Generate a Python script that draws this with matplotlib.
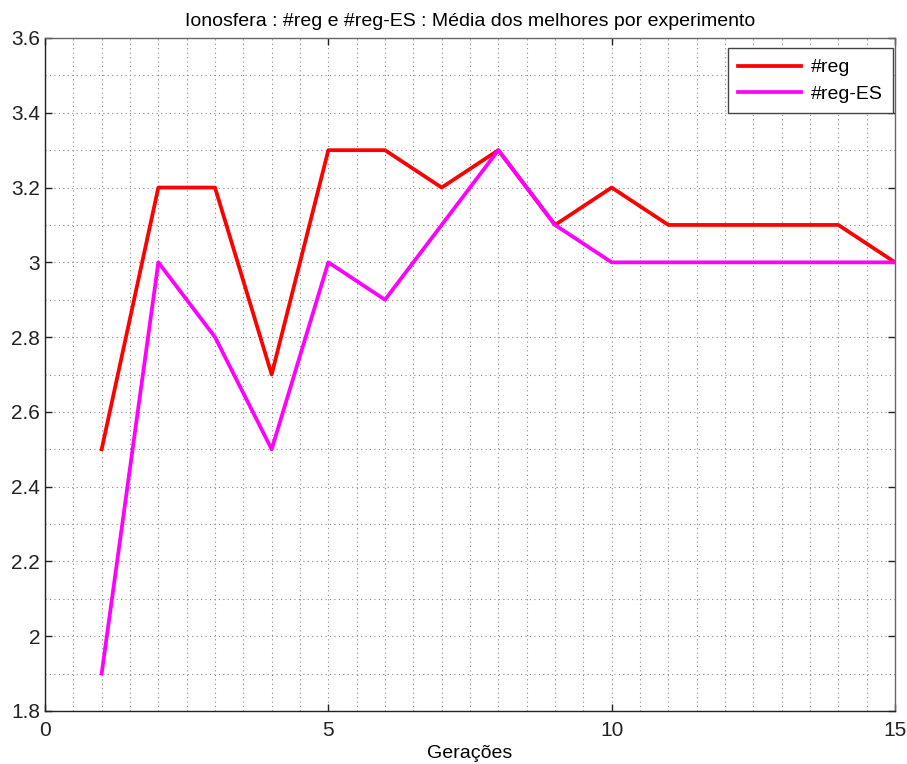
import matplotlib
matplotlib.use("Agg")
import matplotlib.pyplot as plt
from matplotlib.ticker import MultipleLocator, FixedLocator

plt.rcParams['font.family'] = ['Liberation Sans', 'DejaVu Sans']

geracoes = list(range(1, 16))
reg = [2.5, 3.2, 3.2, 2.7, 3.3, 3.3, 3.2, 3.3, 3.1, 3.2, 3.1, 3.1, 3.1, 3.1, 3.0]
reg_es = [1.9, 3.0, 2.8, 2.5, 3.0, 2.9, 3.1, 3.3, 3.1, 3.0, 3.0, 3.0, 3.0, 3.0, 3.0]
title = "Ionosfera : #reg e #reg-ES : Média dos melhores por experimento"
xlabel = "Gerações"
labels = ["#reg", "#reg-ES"]

fig = plt.figure(figsize=(9.07, 7.64), dpi=100)
ax = fig.add_axes([45/907, 1 - 711/764, (895-45)/907, (711-38)/764])

ax.plot(geracoes, reg, color='#ff0000', lw=2.7, label=labels[0], zorder=3)
ax.plot(geracoes, reg_es, color='#ff00ff', lw=2.7, label=labels[1], zorder=3)

ax.set_xlim(0, 15)
ax.set_ylim(1.8, 3.6)
ax.xaxis.set_major_locator(FixedLocator([0, 5, 10, 15]))
ax.xaxis.set_minor_locator(MultipleLocator(0.5))
ax.yaxis.set_major_locator(MultipleLocator(0.2))
ax.yaxis.set_minor_locator(MultipleLocator(0.1))
ax.yaxis.set_major_formatter(plt.FuncFormatter(lambda v, p: f"{v:g}"))

ax.grid(True, which='both', color='#888888', linestyle=(0, (1, 3)), linewidth=0.8)
ax.tick_params(which='both', direction='in', labelsize=15, length=5, width=1, colors='#222222')
ax.tick_params(axis='x', pad=7)
ax.tick_params(which='minor', length=0)
ax.tick_params(top=True, right=True)
for s in ax.spines.values():
    s.set_color('#666666')
    s.set_linewidth(1)
ax.spines['left'].set_color('#222222')
ax.spines['bottom'].set_color('#222222')

ax.set_title(title, fontsize=14, pad=9)
ax.set_xlabel(xlabel, fontsize=14, labelpad=4)

leg = ax.legend(loc='upper right', fontsize=14, fancybox=False, edgecolor='#444444',
                framealpha=1, handlelength=3.2, handletextpad=0.5, borderpad=0.55,
                labelspacing=0.45, borderaxespad=0,
                bbox_to_anchor=(848/850, 1 - 10/673))
leg.get_frame().set_linewidth(1)

fig.savefig("out.png", dpi=100)
